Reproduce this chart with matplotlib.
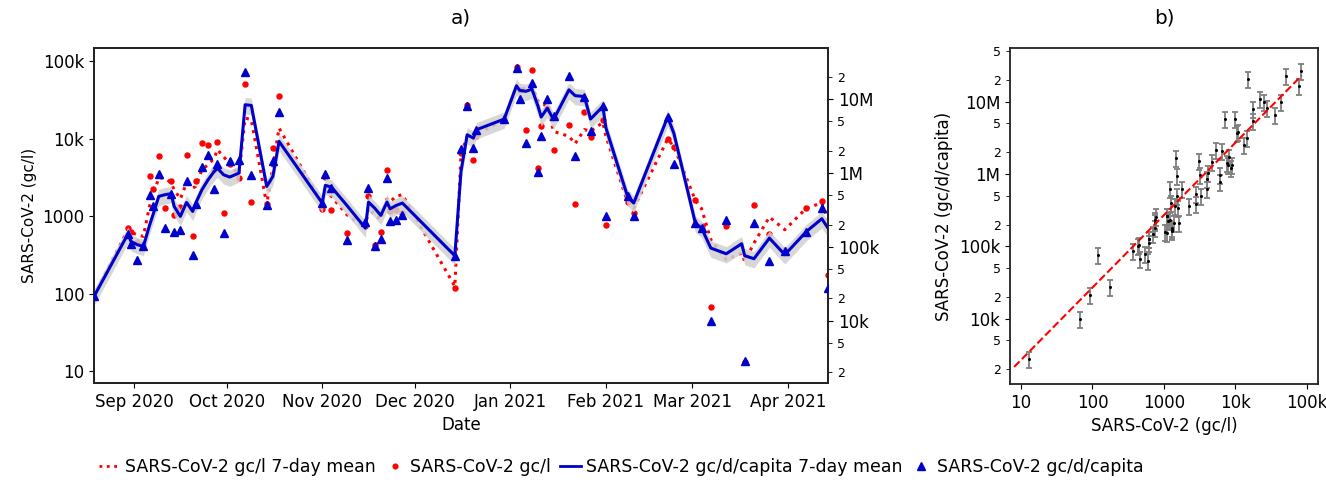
import numpy as np
import pandas as pd
import matplotlib
matplotlib.use("Agg")
import matplotlib.pyplot as plt
import matplotlib.dates as mdates
from matplotlib.ticker import LogLocator, FuncFormatter, NullLocator
from matplotlib.lines import Line2D

# =========================
# DATA
# =========================

dates = [
    "2020-08-19", "2020-08-30", "2020-08-31", "2020-09-02", "2020-09-04",
    "2020-09-06", "2020-09-07", "2020-09-09", "2020-09-11", "2020-09-13",
    "2020-09-14", "2020-09-16", "2020-09-18", "2020-09-20", "2020-09-21",
    "2020-09-23", "2020-09-25", "2020-09-27", "2020-09-28", "2020-09-30",
    "2020-10-02", "2020-10-05", "2020-10-07", "2020-10-09", "2020-10-14",
    "2020-10-16", "2020-10-18", "2020-11-01", "2020-11-02", "2020-11-04",
    "2020-11-09", "2020-11-15", "2020-11-16", "2020-11-18", "2020-11-20",
    "2020-11-22", "2020-11-23", "2020-11-25", "2020-11-27", "2020-12-14",
    "2020-12-16", "2020-12-18", "2020-12-20", "2020-12-21", "2020-12-30",
    "2021-01-03", "2021-01-04", "2021-01-06", "2021-01-08", "2021-01-10",
    "2021-01-11", "2021-01-13", "2021-01-15", "2021-01-20", "2021-01-22",
    "2021-01-25", "2021-01-27", "2021-01-31", "2021-02-01", "2021-02-08",
    "2021-02-10", "2021-02-21", "2021-02-23", "2021-03-02", "2021-03-04",
    "2021-03-07", "2021-03-12", "2021-03-17", "2021-03-18", "2021-03-21",
    "2021-03-26", "2021-03-31", "2021-04-07", "2021-04-12", "2021-04-14",
]

# SARS-CoV-2 gc/l (daily samples)
gcl = [
    93, 708, 622, 462, 445, 3290, 2250, 6070, 1280, 2830,
    1050, 1320, 6140, 552, 2830, 8850, 8260, 4010, 9120, 1100,
    4790, 3130, 51000, 1520, 1440, 7620, 36100, 1240, 3190, 1220,
    610, 743, 1810, 428, 622, 4010, 1160, 1220, 1100, 119,
    6570, 27600, 5390, 10800, 17700, 84500, 43100, 13200, 78200, 4210,
    14500, 25000, 7260, 15200, 1460, 22200, 10500, 17700, 766, 1530,
    1100, 9950, 7850, 1610, 743, 67, 743, np.nan, 13.1, 1400,
    598, 365, 1280, 1560, 175,
]

# SARS-CoV-2 gc/d/capita (daily samples)
gcdc = [
    21300, 149000, 110000, 66800, 103000, 497000, 360000, 975000, 179000, 523000,
    157000, 167000, 775000, 77300, 383000, 1220000, 1740000, 611000, 1330000, 153000,
    1450000, 1510000, 22900000, 944000, 363000, 1430000, 6590000, 391000, 964000, 624000,
    125000, 214000, 624000, 101000, 127000, 851000, 225000, 232000, 266000, 75700,
    2100000, 8110000, 2170000, 3840000, 5350000, 26200000, 9980000, 2530000, 16400000, 1020000,
    3180000, 9980000, 5820000, 20700000, 1670000, 10800000, 3650000, 7940000, 258000, 491000,
    263000, 5700000, 1320000, 209000, 179000, 9790, 230000, np.nan, 2810, 209000,
    63400, 86700, 161000, 334000, 27700,
]

# 7-day means
gcl_7d = [
    93, 673, 622, 581, 552, 1350, 1810, 3130, 3130, 2700,
    2210, 1680, 2700, 2320, 2440, 4010, 4650, 5660, 7260, 5950,
    4650, 3450, 18600, 17700, 1420, 4420, 13800, 1460, 2100, 1810,
    1050, 708, 1280, 1050, 906, 1680, 1560, 1810, 1910, 125,
    6250, 10800, 9950, 11300, 18000, 48500, 43100, 45300, 47600, 30500,
    29000, 26300, 12500, 10800, 8670, 13200, 12500, 16300, 10800, 1530,
    1280, 9950, 8020, 1610, 1260, 500, 276, 336, 263, 453,
    982, 673, 1280, 1490, 906,
]

gcdc_7d = [
    21300, 149000, 118000, 107000, 101000, 195000, 261000, 481000, 507000, 523000,
    352000, 258000, 399000, 301000, 391000, 592000, 809000, 1050000, 1160000, 944000,
    879000, 995000, 8360000, 8190000, 656000, 897000, 2670000, 391000, 678000, 643000,
    363000, 179000, 403000, 334000, 266000, 403000, 327000, 363000, 391000, 75700,
    1050000, 3280000, 2960000, 3840000, 5350000, 15100000, 13100000, 12700000, 13600000, 7940000,
    5700000, 7540000, 5240000, 13300000, 11100000, 10800000, 5350000, 7940000, 4050000, 481000,
    391000, 5700000, 3460000, 209000, 179000, 96200, 80500, 110000, 75700, 69000,
    131000, 78200, 161000, 240000, 179000,
]

rel_err = 0.25          # relative uncertainty (band / error bars)
fit_slope = 1.0         # log-log regression in panel b
fit_intercept = 2.43
fit_range = [8, 85000]

# =========================
# STYLE
# =========================

plt.rcParams["font.family"] = ["DejaVu Sans"]
plt.rcParams["font.size"] = 12

RED = "#ff0000"
BLUE = "#0000cc"

t = pd.to_datetime(dates)
gcl = np.array(gcl, dtype=float)
gcdc = np.array(gcdc, dtype=float)
gcl_7d = np.array(gcl_7d, dtype=float)
gcdc_7d = np.array(gcdc_7d, dtype=float)


def big_fmt(v, pos):
    if v >= 1e6:
        return f"{v / 1e6:g}M"
    if v >= 1e4:
        return f"{v / 1e3:g}k"
    return f"{v:g}"


def lead_fmt(v, pos):
    return f"{v / 10 ** np.floor(np.log10(v)):.0f}"


fig = plt.figure(figsize=(13.26, 4.83), dpi=100)
W, H = 1326, 483
ax = fig.add_axes([94 / W, 1 - 383 / H, (828 - 94) / W, (383 - 48) / H])
ax2 = ax.twinx()
axb = fig.add_axes([1010 / W, 1 - 384 / H, (1318 - 1010) / W, (384 - 48) / H])

# =========================
# PANEL A
# =========================

ax.plot(t, gcl_7d, linestyle=":", color=RED, lw=2.2, zorder=2)
ax.plot(t, gcl, "o", color=RED, ms=3.6, zorder=3)

ax2.fill_between(t, gcdc_7d * (1 - rel_err), gcdc_7d * (1 + rel_err),
                 color="#d0d0d0", alpha=0.85, lw=0, zorder=1)
ax2.plot(t, gcdc_7d, "-", color=BLUE, lw=2.2, zorder=2)
ax2.plot(t, gcdc, "^", color=BLUE, ms=6, zorder=3)

ax.set_yscale("log")
ax2.set_yscale("log")
ax.set_ylim(7.08, 149000)
ax2.set_ylim(1436, 4.9e7)
ax.set_xlim(t.min(), t.max())

ax.yaxis.set_major_locator(LogLocator(base=10, numticks=20))
ax.yaxis.set_major_formatter(FuncFormatter(big_fmt))
ax.yaxis.set_minor_locator(NullLocator())

ax2.yaxis.set_major_locator(LogLocator(base=10, numticks=20))
ax2.yaxis.set_major_formatter(FuncFormatter(big_fmt))
ax2.yaxis.set_minor_locator(LogLocator(base=10, subs=(2, 5), numticks=20))
ax2.yaxis.set_minor_formatter(FuncFormatter(lead_fmt))
ax2.tick_params(axis="y", which="minor", labelsize=9, length=3)

ax.xaxis.set_major_locator(mdates.MonthLocator())
ax.xaxis.set_major_formatter(mdates.DateFormatter("%b %Y"))

ax.set_xlabel("Date")
ax.set_ylabel("SARS-CoV-2 (gc/l)", fontsize=11)
ax.set_title("a)", pad=18)

# =========================
# PANEL B
# =========================

axb.errorbar(gcl, gcdc, yerr=[gcdc * rel_err, gcdc * rel_err], fmt="o",
             ms=1.2, color="black", ecolor="#7f7f7f", elinewidth=1.3,
             capsize=2.5, capthick=1.3, zorder=2)
fx = np.array(fit_range, dtype=float)
axb.plot(fx, 10 ** (fit_slope * np.log10(fx) + fit_intercept), "--",
         color=RED, lw=1.5, zorder=3)

axb.set_xscale("log")
axb.set_yscale("log")
axb.set_xlim(7.0, 144000)
axb.set_ylim(1250, 5.5e7)

axb.xaxis.set_major_locator(LogLocator(base=10, numticks=20))
axb.xaxis.set_major_formatter(FuncFormatter(big_fmt))
axb.xaxis.set_minor_locator(NullLocator())
axb.yaxis.set_major_locator(LogLocator(base=10, numticks=20))
axb.yaxis.set_major_formatter(FuncFormatter(big_fmt))
axb.yaxis.set_minor_locator(LogLocator(base=10, subs=(2, 5), numticks=20))
axb.yaxis.set_minor_formatter(FuncFormatter(lead_fmt))
axb.tick_params(axis="y", which="minor", labelsize=9, length=3)

axb.set_xlabel("SARS-CoV-2 (gc/l)")
axb.set_ylabel("SARS-CoV-2 (gc/d/capita)")
axb.set_title("b)", pad=18)

for a in (ax, ax2, axb):
    for s in a.spines.values():
        s.set_linewidth(1.3)
        s.set_color("#222222")

# =========================
# LEGEND
# =========================

handles = [
    Line2D([], [], linestyle=":", color=RED, lw=2.0),
    Line2D([], [], linestyle="none", marker="o", color=RED, ms=3.4),
    Line2D([], [], linestyle="-", color=BLUE, lw=2.0),
    Line2D([], [], linestyle="none", marker="^", color=BLUE, ms=6),
]
labels = [
    "SARS-CoV-2 gc/l 7-day mean",
    "SARS-CoV-2 gc/l",
    "SARS-CoV-2 gc/d/capita 7-day mean",
    "SARS-CoV-2 gc/d/capita",
]
fig.legend(handles, labels, loc="center left", bbox_to_anchor=(83 / W, 1 - 467 / H),
           ncol=4, frameon=False, fontsize=12.5, handlelength=1.2,
           handletextpad=0.3, columnspacing=0.5)

fig.savefig("out.png", dpi=100)
